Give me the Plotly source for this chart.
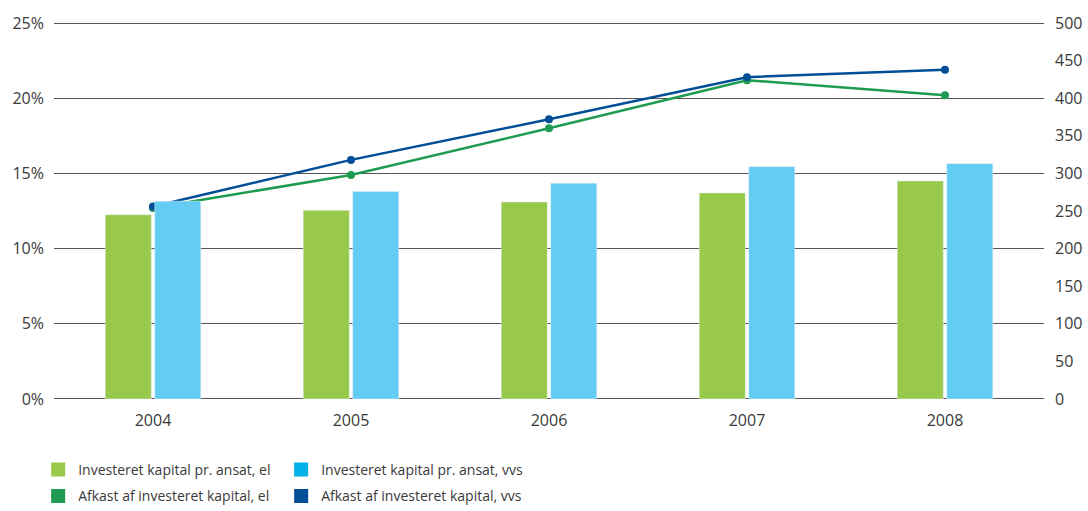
import plotly.graph_objects as go

years = ["2004", "2005", "2006", "2007", "2008"]
kapital_el = [245, 251, 262, 274, 290]
kapital_vvs = [263, 276, 287, 309, 313]
afkast_el = [12.7, 14.9, 18.0, 21.2, 20.2]
afkast_vvs = [12.8, 15.9, 18.6, 21.4, 21.9]

left_ticks = [0, 5, 10, 15, 20, 25]
left_labels = ["0%", "5%", "10%", "15%", "20%", "25%"]
right_ticks = list(range(0, 501, 50))

names = [
    "Investeret kapital pr. ansat, el",
    "Investeret kapital pr. ansat, vvs",
    "Afkast af investeret kapital, el",
    "Afkast af investeret kapital, vvs",
]

C_BAR_EL = "#99C94A"
C_BAR_VVS = "#63CCF2"
C_LEG_VVS = "#00B2E8"
C_LINE_EL = "#1E9B50"
C_LINE_VVS = "#004E96"

fig = go.Figure()

fig.add_trace(go.Bar(x=years, y=kapital_el, marker_color=C_BAR_EL, yaxis="y2",
                     showlegend=False, offsetgroup="a"))
fig.add_trace(go.Bar(x=years, y=kapital_vvs, marker_color=C_BAR_VVS, yaxis="y2",
                     showlegend=False, offsetgroup="b"))
fig.add_trace(go.Scatter(x=years, y=afkast_el, mode="lines+markers", yaxis="y",
                         line=dict(color=C_LINE_EL, width=2.5), marker=dict(size=8),
                         showlegend=False))
fig.add_trace(go.Scatter(x=years, y=afkast_vvs, mode="lines+markers", yaxis="y",
                         line=dict(color=C_LINE_VVS, width=2.5), marker=dict(size=8),
                         showlegend=False))

# legend proxies (square swatches)
for nm, col, lg in [(names[0], C_BAR_EL, "legend"), (names[1], C_LEG_VVS, "legend"),
                    (names[2], C_LINE_EL, "legend2"), (names[3], C_LINE_VVS, "legend2")]:
    fig.add_trace(go.Bar(x=[None], y=[None], name=nm, marker_color=col,
                         marker_line=dict(color=col, width=2),
                         showlegend=True, legend=lg, yaxis="y2"))

tick_font = dict(family="Open Sans, Noto Sans, sans-serif", size=16, color="#3a3a3a")
leg_font = dict(family="Open Sans, Noto Sans, sans-serif", size=14, color="#3a3a3a")

fig.update_layout(
    width=1088, height=511,
    margin=dict(l=54, r=44, t=22, b=111, autoexpand=False),
    plot_bgcolor="white", paper_bgcolor="white",
    font=tick_font,
    barmode="group", bargap=0.5, bargroupgap=0.07,
    xaxis=dict(type="category", showgrid=False, showline=False, ticks="",
               tickfont=tick_font, ticklabelstandoff=9),
    yaxis=dict(range=[-0.07, 25.07], tickvals=left_ticks, ticktext=left_labels,
               showgrid=True, gridcolor="#555555", gridwidth=1,
               zeroline=False, showline=False, ticks="", tickfont=tick_font,
               ticklabelstandoff=9),
    yaxis2=dict(range=[-1.4, 501.4], tickvals=right_ticks, overlaying="y", side="right",
                showgrid=False, zeroline=False, showline=False, ticks="", tickfont=tick_font,
                ticklabelstandoff=10),
    legend=dict(orientation="h", x=-0.016, xanchor="left", y=-0.185, yanchor="middle",
                entrywidth=198, font=leg_font, itemwidth=30, traceorder="normal"),
    legend2=dict(orientation="h", x=-0.016, xanchor="left", y=-0.255, yanchor="middle",
                 entrywidth=198, font=leg_font, itemwidth=30, traceorder="normal"),
)

fig.write_html("out.html", config={"displayModeBar": False},
               post_script="document.body.style.margin='0';document.body.style.overflow='hidden';")
